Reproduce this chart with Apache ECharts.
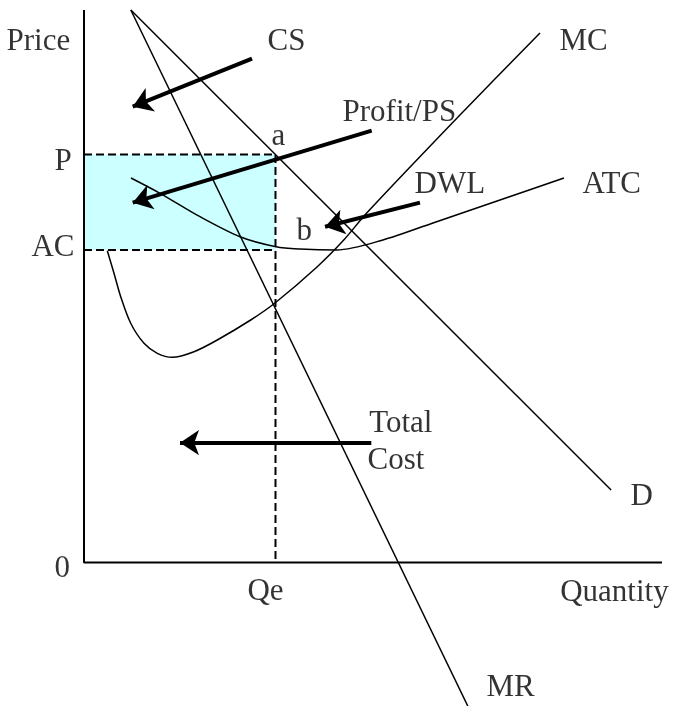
<!DOCTYPE html>
<html>
<head>
<meta charset="utf-8">
<script src="https://cdn.jsdelivr.net/npm/echarts@6/dist/echarts.min.js"></script>
<style>
html, body { margin: 0; padding: 0; background: #fff; }
#chart { width: 673px; height: 706px; }
</style>
</head>
<body>
<div id="chart"></div>
<script>
// monopoly diagram, quantity 0..100 across, price 0..100 up
const demand = [[8.1, 100], [91.2, 13.1]];
const marginalRevenue = [[8.1, 100], [66.4, -26]];
const marginalCost = [
    [4.03, 56.43], [5.19, 52.34], [6.35, 48.1], [8.08, 43.29], [10.38, 39.66],
    [12.68, 37.85], [15.28, 37.13], [19.03, 38.14], [23.06, 40.26], [28.84, 43.88],
    [32.99, 46.91], [40.36, 53.53], [44.98, 58.4], [48.91, 63.25], [64.71, 80.63],
    [78.89, 95.84]
];
const averageTotalCost = [
    [8.13, 69.59], [13.15, 66.82], [20.07, 62.58], [26.99, 58.96], [33.22, 57.15],
    [37.37, 56.74], [43.72, 56.56], [51.73, 58.37], [60.38, 61.45], [71.97, 65.61],
    [83.04, 69.59]
];
const priceP = 73.84;
const costAC = 56.56;
const quantityQe = 33.13;

// arrows: [from, to]
const arrows = [
    [[29.07, 91.18], [8.43, 82.49]],   // CS
    [[49.77, 78.15], [8.43, 65.12]],   // Profit/PS
    [[58.13, 65.12], [41.7, 60.77]],   // DWL
    [[49.71, 21.67], [16.61, 21.67]]   // Total Cost
];

// text: [x, y, text]
const labels = [
    [-13.32, 94.17, 'Price'],
    [31.83, 94.17, 'CS'],
    [82.35, 94.17, 'MC'],
    [44.81, 81.21, 'Profit/PS'],
    [32.53, 76.98, 'a'],
    [-5.02, 72.45, 'P'],
    [57.27, 68.23, 'DWL'],
    [86.33, 68.23, 'ATC'],
    [36.85, 59.78, 'b'],
    [-9.0, 56.77, 'AC'],
    [49.43, 24.91, 'Total'],
    [49.13, 18.32, 'Cost'],
    [94.64, 11.7, 'D'],
    [-5.02, -1.34, '0'],
    [28.37, -5.39, 'Qe'],
    [82.47, -5.58, 'Quantity'],
    [69.72, -22.88, 'MR']
];

const chart = echarts.init(document.getElementById('chart'));

const thin = { color: '#000', width: 1.5 };
const dashed = { color: '#000', width: 2, type: [8, 4] };

chart.setOption({
    animation: false,
    backgroundColor: '#fff',
    grid: { left: 84, top: 10, width: 578, height: 696 },
    xAxis: { type: 'value', min: 0, max: 100, show: false },
    yAxis: { type: 'value', min: -26, max: 100, show: false },
    series: [
        {
            // axes + profit rectangle
            type: 'line',
            data: [[0, 100], [0, 0], [100, 0]],
            symbol: 'none',
            lineStyle: { color: '#000', width: 2 },
            z: 5,
            markArea: {
                silent: true,
                itemStyle: { color: '#CCFFFF' },
                data: [[{ coord: [0, priceP] }, { coord: [quantityQe, costAC] }]]
            }
        },
        {
            type: 'line',
            data: [[0, priceP], [quantityQe, priceP], [quantityQe, 0]],
            symbol: 'none',
            lineStyle: dashed
        },
        {
            type: 'line',
            data: [[0, costAC], [quantityQe, costAC]],
            symbol: 'none',
            lineStyle: dashed
        },
        { type: 'line', data: demand, symbol: 'none', lineStyle: thin },
        { type: 'line', data: marginalRevenue, symbol: 'none', lineStyle: thin },
        { type: 'line', data: marginalCost, symbol: 'none', smooth: 0.3, lineStyle: thin },
        { type: 'line', data: averageTotalCost, symbol: 'none', smooth: 0.3, lineStyle: thin },
        {
            type: 'lines',
            coordinateSystem: 'cartesian2d',
            symbol: ['none', 'arrow'],
            symbolSize: [16, 19],
            lineStyle: { color: '#000', width: 4, opacity: 1 },
            data: arrows.map(a => ({ coords: a })),
            z: 6
        },
        {
            type: 'scatter',
            clip: false,
            symbolSize: 1,
            itemStyle: { color: 'rgba(0,0,0,0)' },
            data: labels.map(l => ({ value: [l[0], l[1]], name: l[2] })),
            label: {
                show: true,
                position: [0, 0],
                align: 'left',
                verticalAlign: 'middle',
                formatter: p => p.name,
                fontFamily: 'Liberation Serif',
                fontSize: 31,
                color: '#000'
            },
            z: 7
        }
    ]
});
</script>
</body>
</html>
